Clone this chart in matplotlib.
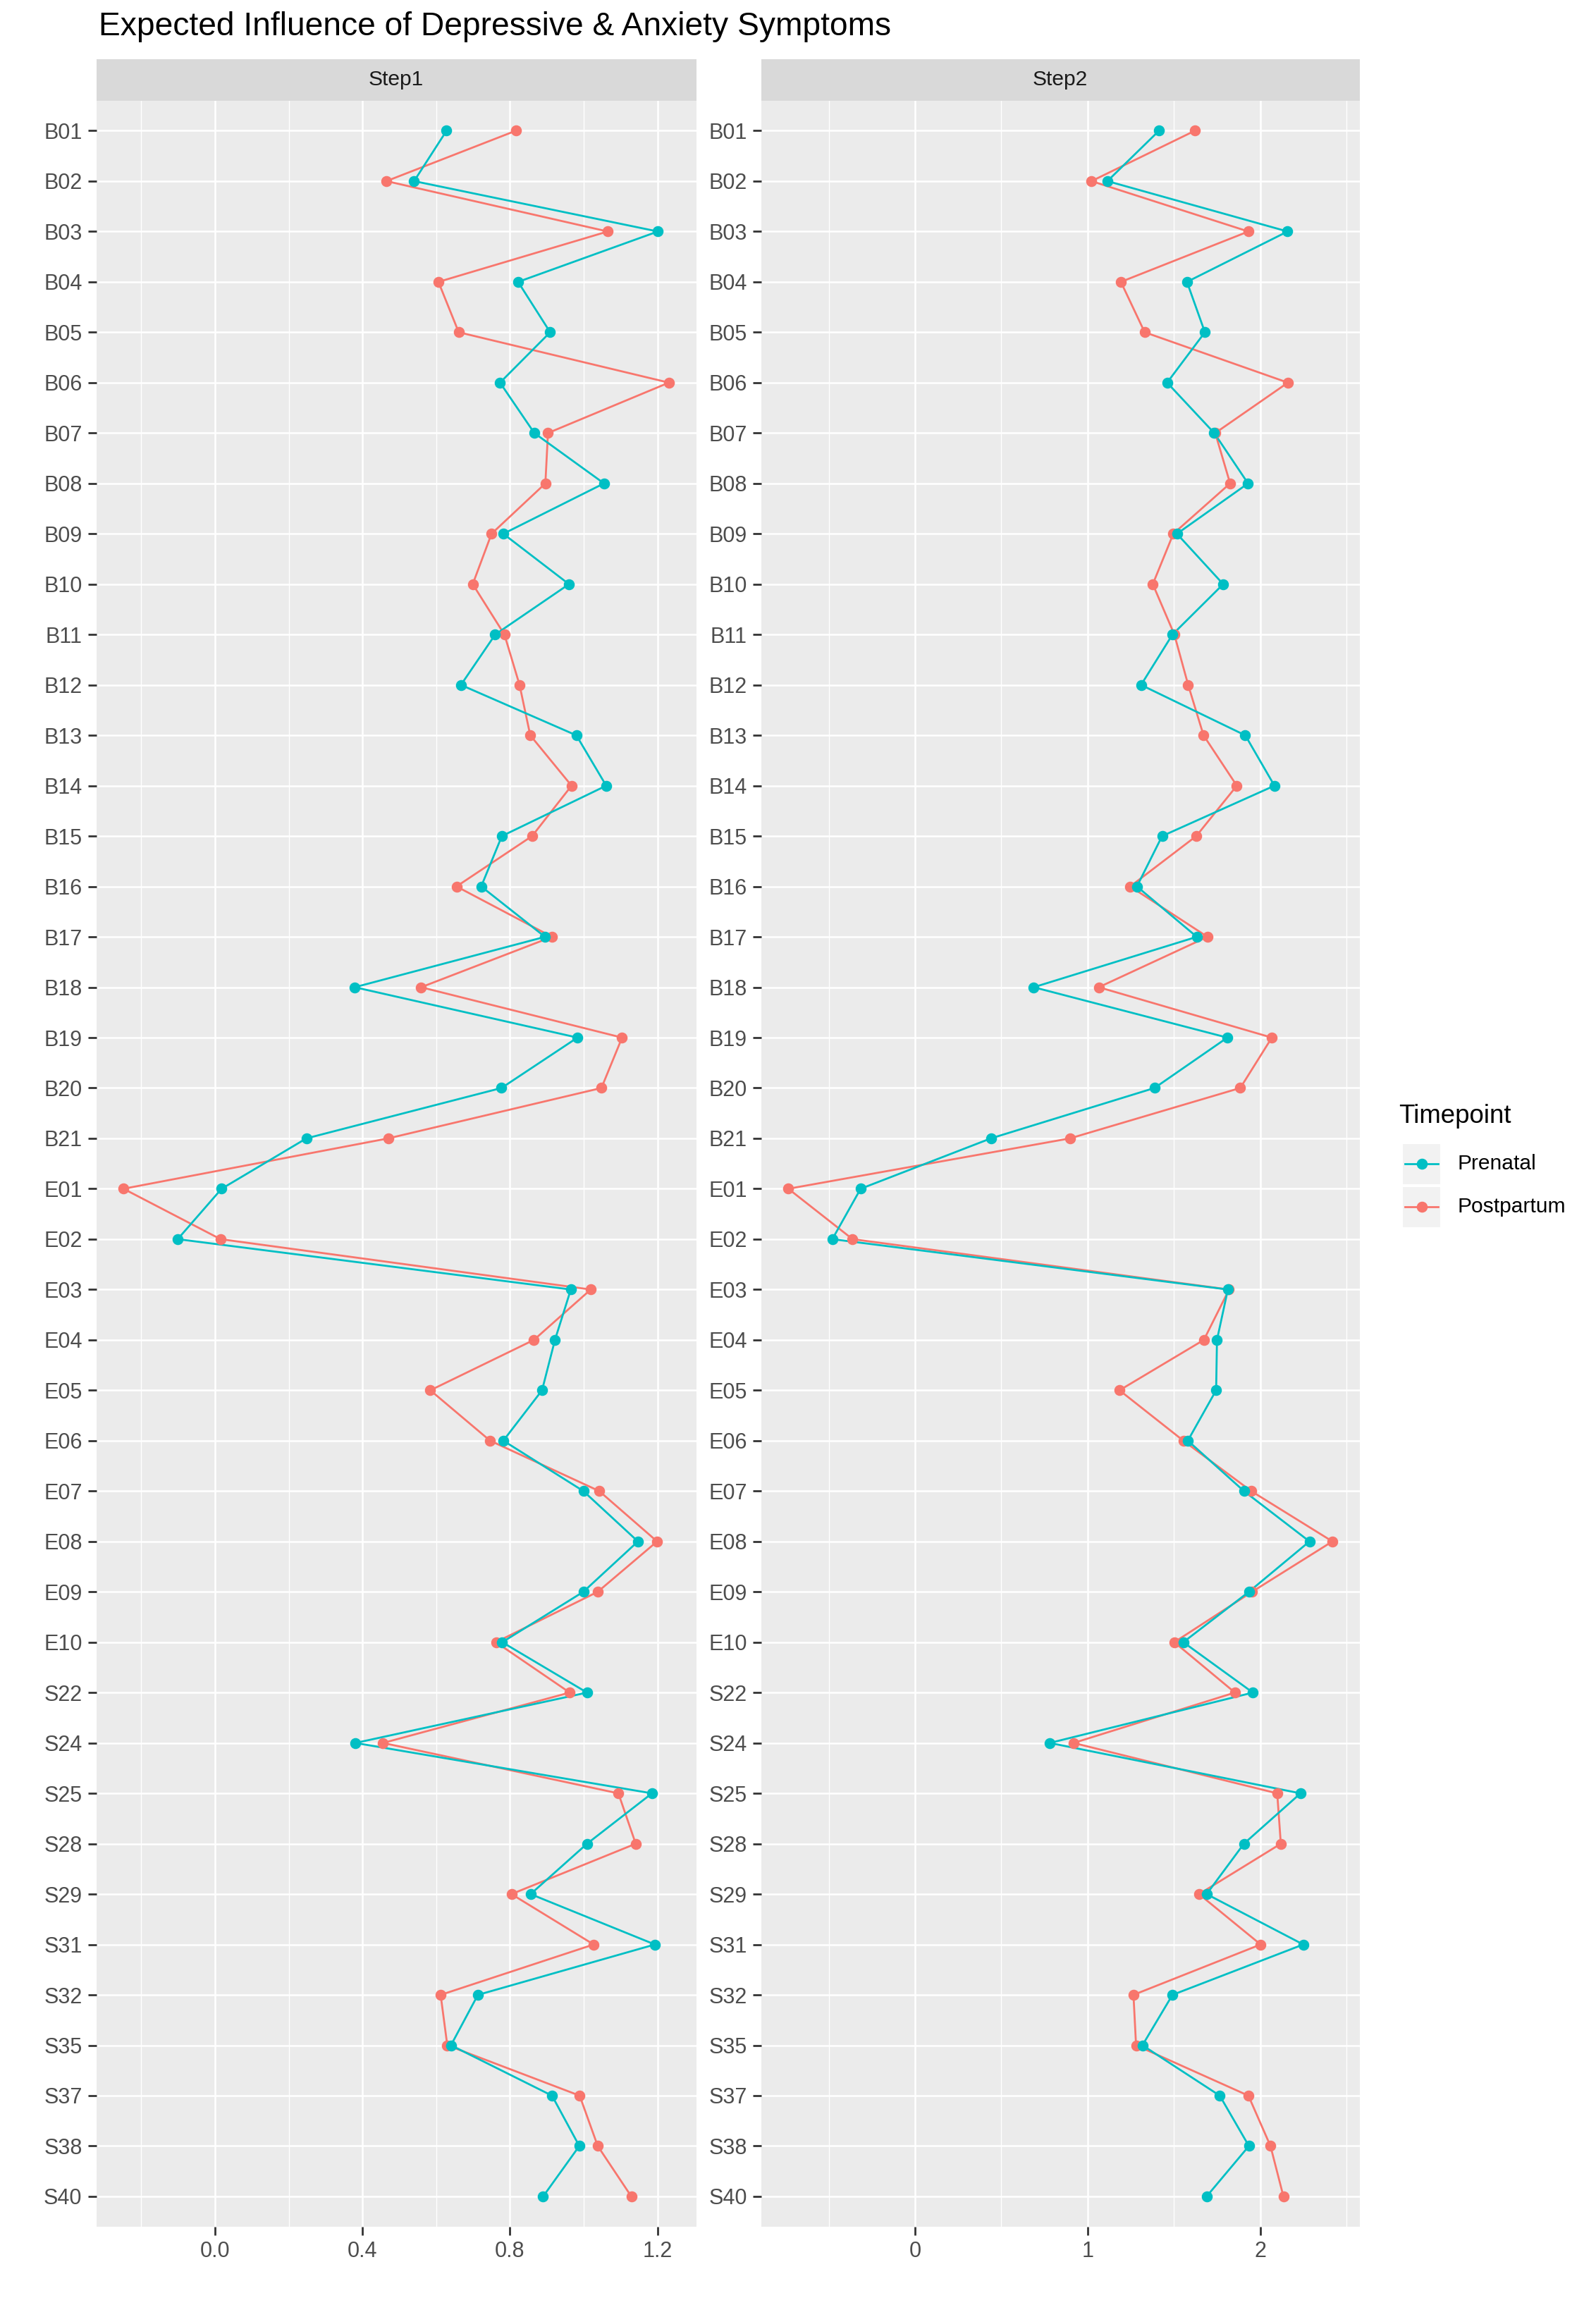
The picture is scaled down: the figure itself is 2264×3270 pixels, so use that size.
import numpy as np
import matplotlib
matplotlib.use("Agg")
import matplotlib.pyplot as plt
from matplotlib.lines import Line2D
from matplotlib.patches import Rectangle

plt.rcParams['font.family'] = ['Liberation Sans', 'DejaVu Sans']

symptoms = ["B01", "B02", "B03", "B04", "B05", "B06", "B07", "B08", "B09", "B10",
            "B11", "B12", "B13", "B14", "B15", "B16", "B17", "B18", "B19", "B20",
            "B21", "E01", "E02", "E03", "E04", "E05", "E06", "E07", "E08", "E09",
            "E10", "S22", "S24", "S25", "S28", "S29", "S31", "S32", "S35", "S37",
            "S38", "S40"]

step1_prenatal = [0.628, 0.540, 1.201, 0.822, 0.909, 0.773, 0.866, 1.055, 0.782, 0.960,
                  0.760, 0.667, 0.980, 1.061, 0.778, 0.722, 0.895, 0.379, 0.983, 0.777,
                  0.248, 0.018, -0.101, 0.965, 0.922, 0.887, 0.782, 0.999, 1.147, 0.999,
                  0.779, 1.009, 0.381, 1.185, 1.009, 0.856, 1.193, 0.713, 0.640, 0.914,
                  0.988, 0.890]
step1_postpartum = [0.816, 0.465, 1.065, 0.606, 0.661, 1.231, 0.903, 0.896, 0.750, 0.699,
                    0.785, 0.826, 0.855, 0.967, 0.860, 0.655, 0.914, 0.559, 1.104, 1.048,
                    0.470, -0.248, 0.015, 1.019, 0.865, 0.584, 0.746, 1.042, 1.199, 1.038,
                    0.762, 0.962, 0.456, 1.094, 1.141, 0.804, 1.027, 0.612, 0.630, 0.989,
                    1.038, 1.129]
step2_prenatal = [1.414, 1.115, 2.159, 1.576, 1.680, 1.461, 1.734, 1.930, 1.518, 1.786,
                  1.492, 1.310, 1.914, 2.083, 1.432, 1.286, 1.633, 0.688, 1.810, 1.388,
                  0.440, -0.315, -0.479, 1.813, 1.750, 1.745, 1.581, 1.906, 2.286, 1.935,
                  1.555, 1.958, 0.781, 2.234, 1.906, 1.690, 2.250, 1.492, 1.318, 1.766,
                  1.935, 1.690]
step2_postpartum = [1.622, 1.023, 1.932, 1.193, 1.331, 2.161, 1.740, 1.826, 1.497, 1.378,
                    1.503, 1.583, 1.672, 1.865, 1.630, 1.247, 1.695, 1.065, 2.068, 1.885,
                    0.898, -0.734, -0.362, 1.820, 1.674, 1.185, 1.555, 1.948, 2.419, 1.953,
                    1.503, 1.854, 0.919, 2.099, 2.120, 1.646, 2.003, 1.266, 1.281, 1.932,
                    2.060, 2.135]

timepoints = ["Prenatal", "Postpartum"]
colors = {"Prenatal": "#00BFC4", "Postpartum": "#F8766D"}

panels = [
    ("Step1", {"Prenatal": step1_prenatal, "Postpartum": step1_postpartum},
     [0.0, 0.4, 0.8, 1.2], ["0.0", "0.4", "0.8", "1.2"], [-0.2, 0.2, 0.6, 1.0],
     [0.0603, 0.4362]),
    ("Step2", {"Prenatal": step2_prenatal, "Postpartum": step2_postpartum},
     [0, 1, 2], ["0", "1", "2"], [-0.5, 0.5, 1.5, 2.5],
     [0.4769, 0.8519]),
]

fig = plt.figure(figsize=(11.32, 16.35), dpi=200)
bottom, top, strip_top = 0.034, 0.9564, 0.9744
tick_col = "#4D4D4D"
y = np.arange(len(symptoms))

for name, series, majors, majlabels, minors, (x0, x1) in panels:
    ax = fig.add_axes([x0, bottom, x1 - x0, top - bottom])
    ax.set_facecolor("#EBEBEB")
    allv = np.concatenate([series[k] for k in timepoints])
    lo, hi = allv.min(), allv.max()
    pad = 0.05 * (hi - lo)
    ax.set_xlim(lo - pad, hi + pad)
    ax.set_ylim(len(symptoms) - 1 + 0.6, -0.6)

    for m in minors:
        ax.axvline(m, color="white", lw=0.5, zorder=0)
    for m in majors:
        ax.axvline(m, color="white", lw=0.9, zorder=0)
    for yy in y:
        ax.axhline(yy, color="white", lw=0.9, zorder=0)

    for tp in ["Postpartum", "Prenatal"]:
        ax.plot(series[tp], y, color=colors[tp], lw=1.0, zorder=2)
    for tp in ["Postpartum", "Prenatal"]:
        ax.plot(series[tp], y, "o", color=colors[tp], ms=4.6, zorder=3)

    ax.set_xticks(majors)
    ax.set_xticklabels(majlabels)
    ax.set_yticks(y)
    ax.set_yticklabels(symptoms)
    ax.tick_params(axis="both", colors="#333333", labelcolor=tick_col, labelsize=11,
                   length=4.2, width=1.0, pad=3)
    for sp in ax.spines.values():
        sp.set_visible(False)

    sax = fig.add_axes([x0, top, x1 - x0, strip_top - top])
    sax.set_facecolor("#D9D9D9")
    sax.set_xticks([])
    sax.set_yticks([])
    for sp in sax.spines.values():
        sp.set_visible(False)
    sax.text(0.5, 0.5, name, ha="center", va="center", fontsize=10.8, color="#1A1A1A",
             transform=sax.transAxes)

fig.text(0.062, 0.9885, "Expected Influence of Depressive & Anxiety Symptoms",
         fontsize=16.6, ha="left", va="center", color="black")

# legend
lx = 0.8765
fig.text(lx, 0.5158, "Timepoint", fontsize=13.2, ha="left", va="center")
key_w, key_h = 0.0235, 0.0175
for i, tp in enumerate(timepoints):
    yc = 0.4950 - i * 0.0187
    fig.patches.append(Rectangle((lx + 0.0025, yc - key_h / 2), key_w, key_h,
                                 transform=fig.transFigure, facecolor="#F2F2F2",
                                 edgecolor="none"))
    fig.lines.append(Line2D([lx + 0.004, lx + 0.0245], [yc, yc], transform=fig.transFigure,
                            color=colors[tp], lw=1.0))
    fig.lines.append(Line2D([lx + 0.0142], [yc], transform=fig.transFigure, marker="o",
                            color=colors[tp], ms=4.6))
    fig.text(lx + 0.0365, yc, tp, fontsize=10.8, ha="left", va="center")

fig.savefig("out.png", dpi=200, facecolor="white")
